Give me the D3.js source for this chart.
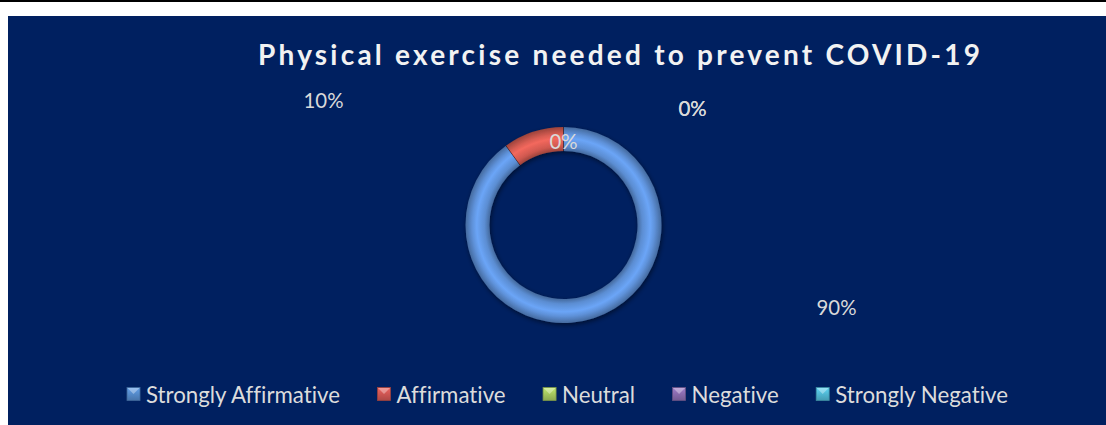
<!DOCTYPE html>
<html><head><meta charset="utf-8">
<script src="https://cdn.jsdelivr.net/npm/d3@7"></script>
<style>
html,body{margin:0;padding:0;background:#fff;}
svg{display:block;}
text{font-variant-ligatures:none;}
</style></head>
<body>
<svg id="chart" width="1106" height="425"></svg>
<script>
// ---- data ----
const categories = ["Strongly Affirmative","Affirmative","Neutral","Negative","Strongly Negative"];
const values = [90, 10, 0, 0, 0];
const valueLabels = ["90%","10%","0%","0%","0%"];
const title = "Physical exercise needed to prevent COVID-19";

// ---- styling / layout ----
const colors = ["#6297e2","#de5f55","#9bbb59","#8064a2","#4bacc6"];
const legendColors = ["#4f81bd","#c0504d","#9bbb59","#8064a2","#4bacc6"];
const W = 1106, H = 425;
const cx = 563.5, cy = 225, rOuter = 98, rInner = 74;
// manual label offsets (dx,dy from centre) as placed in the reference
const labelOffsets = [[273, 82],[-240,-125],[129,-117],[0,-84],[129,-117]];

const font = "Lato, 'Open Sans', sans-serif";
const svg = d3.select("#chart");
const defs = svg.append("defs");

svg.append("rect").attr("x",0).attr("y",0).attr("width",W).attr("height",2).attr("fill","#000");
svg.append("rect").attr("x",8).attr("y",16).attr("width",W-8).attr("height",H-16).attr("fill","#002060");

// title
const t = svg.append("text").attr("x",619).attr("y",65)
  .attr("text-anchor","middle").attr("fill","#f2f2f2")
  .attr("font-family",font).attr("font-weight","bold").attr("font-size",28)
  .text(title);
{
  const w = t.node().getComputedTextLength();
  const ls = (722 - w) / (title.length - 1);
  t.attr("letter-spacing", ls).attr("x", 619 + ls/2);
}

// donut gradients (user space of the donut group)
colors.forEach((c,i)=>{
  const g = defs.append("radialGradient").attr("id","rg"+i)
    .attr("gradientUnits","userSpaceOnUse").attr("cx",0).attr("cy",0).attr("r",rOuter);
  const base = d3.color(c);
  const f = rInner/rOuter;
  g.append("stop").attr("offset",0).attr("stop-color",base.darker(1.1));
  g.append("stop").attr("offset",f).attr("stop-color",base.darker(1.0));
  g.append("stop").attr("offset",f+0.05).attr("stop-color",base.darker(0.2));
  g.append("stop").attr("offset",f+0.13).attr("stop-color",base.brighter(0.25));
  g.append("stop").attr("offset",0.93).attr("stop-color",base.darker(0.1));
  g.append("stop").attr("offset",1).attr("stop-color",base.darker(1.0));
});
const shadow = defs.append("filter").attr("id","sh").attr("x","-20%").attr("y","-20%").attr("width","140%").attr("height","140%");
shadow.append("feGaussianBlur").attr("in","SourceAlpha").attr("stdDeviation",2.5);
shadow.append("feOffset").attr("dx",1).attr("dy",2).attr("result","b");
shadow.append("feComponentTransfer").append("feFuncA").attr("type","linear").attr("slope",0.5);
const m = shadow.append("feMerge"); m.append("feMergeNode"); m.append("feMergeNode").attr("in","SourceGraphic");

const pie = d3.pie().sort(null).value(d=>d);
const arcs = pie(values);
const arc = d3.arc().innerRadius(rInner).outerRadius(rOuter);
const g = svg.append("g").attr("transform",`translate(${cx},${cy})`).attr("filter","url(#sh)");
g.selectAll("path.slice").data(arcs).join("path").attr("class","slice")
  .attr("d",arc)
  .attr("fill",(d,i)=>`url(#rg${i})`);
g.selectAll("path.edge").data(arcs.filter(d=>d.value>0)).join("path").attr("class","edge")
  .attr("d",d=>`M${rInner*Math.sin(d.startAngle)},${-rInner*Math.cos(d.startAngle)}L${rOuter*Math.sin(d.startAngle)},${-rOuter*Math.cos(d.startAngle)}`)
  .attr("stroke","rgba(0,0,0,0.4)").attr("stroke-width",1);

// labels
const lbl = svg.append("g").selectAll("text").data(arcs).join("text")
  .attr("x",(d,i)=>cx+labelOffsets[i][0]).attr("y",(d,i)=>cy+labelOffsets[i][1])
  .attr("text-anchor","middle").attr("dominant-baseline","central")
  .attr("fill","#d9d9d9").attr("font-family",font).attr("font-size",18)
  .text((d,i)=>valueLabels[i]);
{
  const w10 = lbl.filter((d,i)=>i===1).node().getComputedTextLength();
  lbl.attr("font-size", 18*40/w10);
}

// legend
legendColors.forEach((c,i)=>{
  const lg = defs.append("linearGradient").attr("id","lg"+i).attr("x1",0).attr("y1",0).attr("x2",0).attr("y2",1);
  lg.append("stop").attr("offset",0).attr("stop-color",d3.color(c).brighter(0.6));
  lg.append("stop").attr("offset",1).attr("stop-color",d3.color(c).darker(0.3));
});
const leg = svg.append("g");
const items = leg.selectAll("g").data(categories).join("g");
items.append("rect").attr("width",13).attr("height",13).attr("y",-6.5)
  .attr("fill",(d,i)=>`url(#lg${i})`).attr("stroke",(d,i)=>d3.color(legendColors[i]).darker(0.6)).attr("stroke-width",0.8);
items.append("path").attr("d","M0.5,-6L6.5,0L12.5,-6Z").attr("fill","rgba(255,255,255,0.35)");
const txt = items.append("text").attr("x",19).attr("y",0).attr("dominant-baseline","central")
  .attr("fill","#dcdcdc").attr("font-family",font).attr("font-size",20).text(d=>d);
{
  const w0 = txt.filter((d,i)=>i===0).node().getComputedTextLength();
  txt.attr("font-size", 20*194/w0);
  const widths = txt.nodes().map(n=>n.getComputedTextLength());
  const gap = 37.5;
  let total = 0;
  widths.forEach((w,i)=>{ total += 19 + w + (i<widths.length-1?gap:0); });
  let x = 567.5 - total/2;
  items.attr("transform",(d,i)=>{ const tx = x; x += 19 + widths[i] + gap; return `translate(${tx},394)`; });
}
</script>
</body></html>
